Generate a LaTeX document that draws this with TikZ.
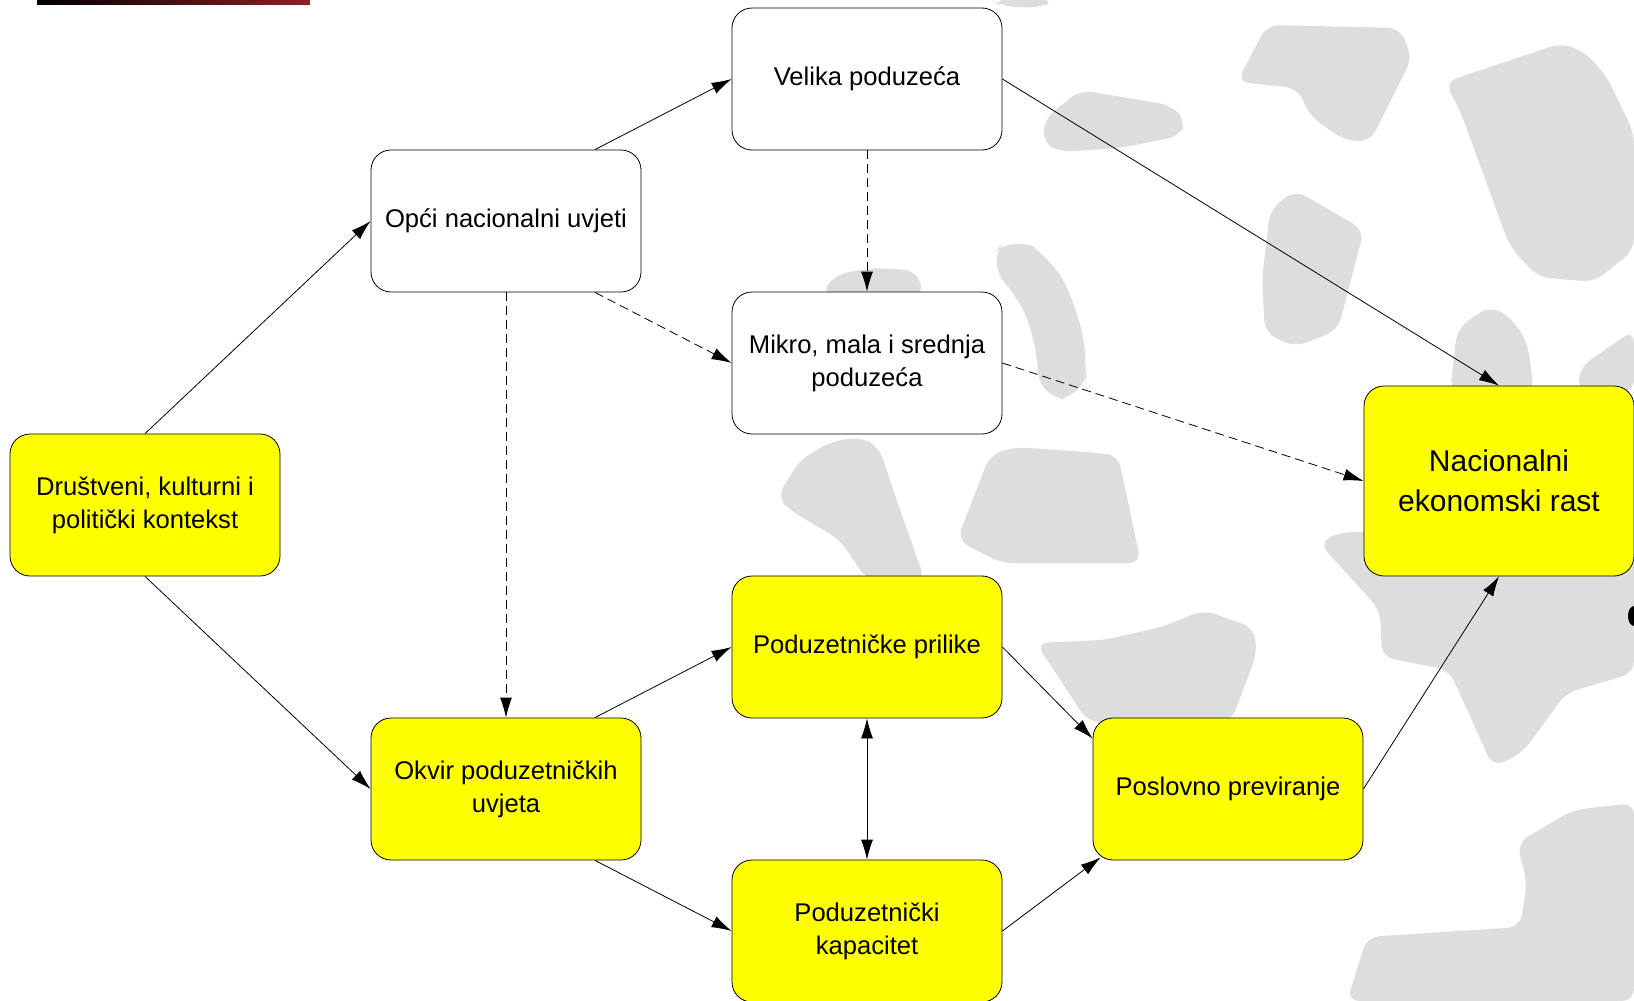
\documentclass[tikz,border=0pt]{standalone}
\usepackage{fontspec}
\setmainfont{Liberation Sans}
\usepackage{tikz}
\usetikzlibrary{arrows.meta, positioning}
\definecolor{blobgray}{RGB}{221,221,221}
\definecolor{boxyellow}{RGB}{255,255,0}
\definecolor{barred}{RGB}{140,32,36}

\begin{document}
\begin{tikzpicture}[>={Latex[length=10pt,width=6pt]},thin,x=0.5pt,y=-0.5pt,node distance=71pt and 180.5pt,on grid]
            \tikzset{box/.style={draw, rounded corners=10pt, minimum width=135pt, minimum height=71pt, inner sep=2pt, align=center, font=\fontsize{12.8}{16.5}\selectfont}}
            \tikzset{plain/.style={box, fill=white}, hot/.style={box, fill=boxyellow}}
            \tikzset{blob/.style={fill=blobgray, rounded corners=6pt}, weak/.style={dash pattern=on 4.5pt off 2.5pt}}
            \useasboundingbox (0,0) rectangle (1634,1001);
            % background of the slide
            \fill[white] (0,0) rectangle (1634,1001);
            \shade[left color=black, right color=barred] (37,0) rectangle (310,4);
            \fill[blob] (992,0) -- (1055,0) -- (1040,8) -- (1000,6) -- cycle;
            \fill[blob] (1045,118) -- (1072,97) -- (1080,90) -- (1170,105) -- (1186,120) -- (1180,136) -- (1120,148) -- (1060,152) -- (1043,143) -- cycle;
            \fill[blob] (1237,82) -- (1267,25) -- (1400,28) -- (1412,58) -- (1370,142) -- (1344,140) -- (1311,117) -- (1297,88) -- cycle;
            \fill[blob] (1445,82) -- (1562,43) -- (1586,53) -- (1607,77) -- (1634,133) -- (1634,250) -- (1594,282) -- (1538,277) -- (1510,247) -- (1461,113) -- cycle;
            \fill[blob] (1262,280) -- (1270,210) -- (1295,190) -- (1364,230) -- (1338,330) -- (1295,347) -- (1265,333) -- cycle;
            \fill[blob, rounded corners=14pt] (985,262) -- (1012,234) -- (1052,258) -- (1078,310) -- (1088,365) -- (1084,398) -- (1040,400) -- (1036,340) -- (1016,292) -- cycle;
            \fill[blob] (1450,392) -- (1457,330) -- (1475,315) -- (1493,306) -- (1515,322) -- (1528,345) -- (1534,392) -- cycle;
            \fill[blob] (1578,392) -- (1580,367) -- (1634,330) -- (1634,392) -- cycle;
            \fill[blob] (821,294) -- (835,275) -- (870,268) -- (915,270) -- (925,294) -- cycle;
            \fill[blob] (777,497) -- (800,460) -- (830,442) -- (860,437) -- (879,447) -- (900,510) -- (925,580) -- (867,580) -- (840,540) -- (790,510) -- cycle;
            \fill[blob] (957,540) -- (990,455) -- (1014,447) -- (1085,452) -- (1118,455) -- (1141,563) -- (1001,563) -- cycle;
            \fill[blob] (1036,643) -- (1104,640) -- (1162,627) -- (1204,610) -- (1254,628) -- (1257,653) -- (1231,722) -- (1088,722) -- cycle;
            \fill[blob] (1319,543) -- (1340,532) -- (1634,532) -- (1634,673) -- (1566,693) -- (1522,753) -- (1493,767) -- (1449,670) -- (1382,657) -- (1380,610) -- cycle;
            \fill[blob] (1517,843) -- (1573,810) -- (1634,803) -- (1634,1001) -- (1347,1001) -- (1367,937) -- (1520,927) -- (1527,883) -- cycle;
            \fill (1634,616) ellipse [x radius=6, y radius=10];
            % boxes
            \node[hot] (D) at (145,505) {Društveni, kulturni i\\politički kontekst};
            \node[plain] (O) [above right=142pt and 180.5pt of D] {Opći nacionalni uvjeti};
            \node[plain] (V) [above right=of O] {Velika poduzeća};
            \node[plain] (M) [below right=of O] {Mikro, mala i srednja\\poduzeća};
            \node[hot] (K) [below right=142pt and 180.5pt of D] {Okvir poduzetničkih\\uvjeta};
            \node[hot] (P) [above right=of K] {Poduzetničke prilike};
            \node[hot] (C) [below right=of K] {Poduzetnički\\kapacitet};
            \node[hot] (B) [below right=of P] {Poslovno previranje};
            \node[hot, minimum height=95pt, font=\fontsize{15}{20}\selectfont] (N) [above right=154pt and 135.5pt of B] {Nacionalni\\ekonomski rast};
            % links
            \path (D.north) edge[->] (O.west);
            \path (D.south) edge[->] (K.west);
            \path ([xshift=44.5pt]O.north) edge[->] (V.west);
            \path ([xshift=44.5pt]O.south) edge[->, weak] (M.west);
            \path (O.south) edge[->, weak] (K.north);
            \path (V.south) edge[->, weak] (M.north);
            \path (V.east) edge[->] (N.north);
            \path (M.east) edge[->, weak] (N.west);
            \path ([xshift=44.5pt]K.north) edge[->] (P.west);
            \path ([xshift=44.5pt]K.south) edge[->] (C.west);
            \path (P.south) edge[<->] (C.north);
            \path (P.east) edge[->] ([yshift=-10.5pt]B.north west);
            \path (C.east) edge[->] ([xshift=4pt,yshift=1.5pt]B.south west);
            \path (B.east) edge[->] (N.south);
        \end{tikzpicture}
\end{document}
